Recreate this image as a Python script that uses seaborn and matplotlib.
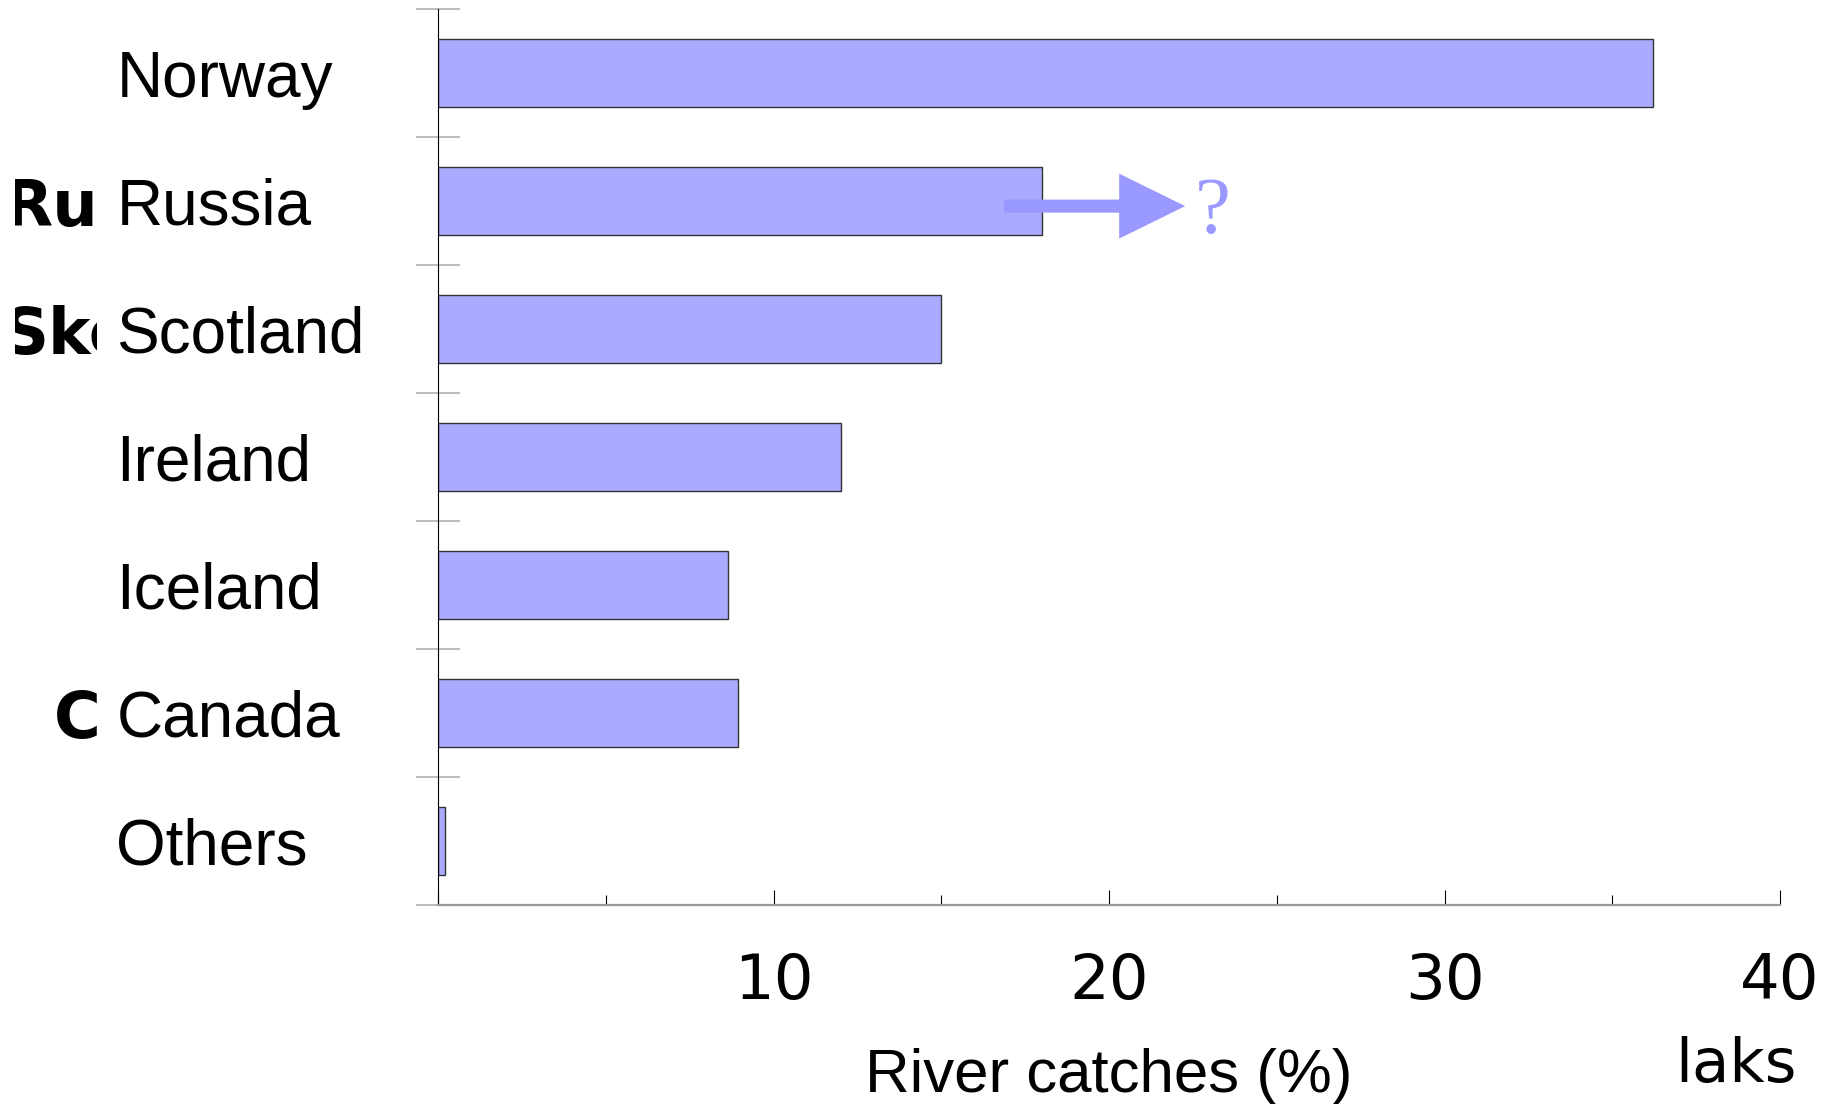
import numpy as np
import pandas as pd
import matplotlib
matplotlib.use("Agg")
import matplotlib.pyplot as plt
from matplotlib.patches import Rectangle, FancyArrowPatch
from matplotlib.transforms import blended_transform_factory
import seaborn as sns

# River catches of wild salmon by country (%)
countries = ["Norway", "Russia", "Scotland", "Ireland", "Iceland", "Canada", "Others"]
catches = [36.2, 18.0, 15.0, 12.0, 8.65, 8.95, 0.2]

# Norwegian names sitting behind the English labels
norwegian_names = ["Russland", "Skottland", "Canada"]
norwegian_rows = [1, 2, 5]

x_major = [0, 10, 20, 30, 40]
x_major_labels = ["", "10", "20", "30", "40"]
x_minor = [5, 15, 25, 35]

# Arrow hinting at the uncertain Russian share
arrow_start, arrow_end, arrow_row = 16.87, 22.27, 1.04

sns.set_theme(style="white")
plt.rcParams["font.family"] = ["Liberation Sans", "DejaVu Sans"]
plt.rcParams.update({"text.color": "black", "axes.labelcolor": "black",
                     "xtick.color": "black", "ytick.color": "black"})

DPI = 100
W, H = 1848, 1104
fig = plt.figure(figsize=(W / DPI, H / DPI), dpi=DPI)
ax = fig.add_axes([438 / W, 1 - 905 / H, 1342 / W, 896 / H])

df = pd.DataFrame({"country": countries, "catch": catches})
sns.barplot(data=df, x="catch", y="country", orient="h", color="#AAAAFF",
            saturation=1, width=0.53, edgecolor="#333333", linewidth=1.0, ax=ax)

ax.set_xlim(0, 40)
ax.set_ylim(6.5, -0.5)

# spines
for side in ("top", "right"):
    ax.spines[side].set_visible(False)
ax.spines["left"].set_color("black")
ax.spines["left"].set_linewidth(0.8)
ax.spines["bottom"].set_color("#999999")
ax.spines["bottom"].set_linewidth(1.6)

# x ticks
ax.set_xticks(x_major)
ax.set_xticklabels(x_major_labels)
ax.set_xticks(x_minor, minor=True)
ax.tick_params(axis="x", which="major", direction="in", length=10.8, width=0.8,
               color="black", labelcolor="black", pad=34, labelsize=45, bottom=True)
ax.tick_params(axis="x", which="minor", direction="in", length=7.2, width=0.8,
               color="black", bottom=True)
for lab in ax.get_xticklabels():
    lab.set_fontfamily("DejaVu Sans")

# y ticks: labels left aligned, grey separators between rows
ax.set_yticks(range(len(countries)))
ax.set_yticklabels(countries)
ax.set_yticks(np.arange(-0.5, len(countries), 1.0), minor=True)
ax.tick_params(axis="y", which="major", length=0, pad=231.5, labelsize=46,
               labelcolor="black", left=True)
ax.tick_params(axis="y", which="minor", direction="inout", length=31, width=1.1,
               color="#AAAAAA", left=True)
for lab in ax.get_yticklabels():
    lab.set_horizontalalignment("left")
    lab.set_fontfamily("Liberation Sans")

ax.set_ylabel("")
ax.set_xlabel("River catches (%)", fontsize=44.5, family="Liberation Sans", color="black")
ax.xaxis.set_label_coords(0.5, -0.2087)
ax.xaxis.label.set_verticalalignment("baseline")

ax.text(0.967, -0.1975, "laks", transform=ax.transAxes, ha="center", va="baseline",
        fontsize=44, family="DejaVu Sans", color="black")

# arrow and question mark next to Russia
arrow = FancyArrowPatch((arrow_start, arrow_row), (arrow_end, arrow_row),
                        arrowstyle="simple,head_length=47.5,head_width=46.8,tail_width=9.4",
                        mutation_scale=1, shrinkA=0, shrinkB=0,
                        color="#9999FF", linewidth=0, zorder=5)
ax.add_patch(arrow)
ax.text(23.1, 1.25, "?", ha="center", va="baseline", fontsize=58,
        family="Liberation Serif", color="#9999FF", zorder=5)

# Norwegian names, mostly hidden behind the label band
trans = blended_transform_factory(fig.transFigure, ax.transData)
norwegian_x = [3 / W, 2 / W, 54 / W]
for name, row, xpos in zip(norwegian_names, norwegian_rows, norwegian_x):
    fig.text(xpos, row, name, transform=trans, ha="left", va="center_baseline",
             fontsize=46, family="DejaVu Sans", fontweight="bold", color="black",
             zorder=-2)
fig.patches.append(Rectangle((97 / W, 0), (415 - 97) / W, 1, transform=fig.transFigure,
                             facecolor="white", edgecolor="none", zorder=-1))
fig.patches.append(Rectangle((0, 0), 15 / W, 1, transform=fig.transFigure,
                             facecolor="white", edgecolor="none", zorder=-1))

fig.savefig("out.png", dpi=DPI, facecolor="white")
